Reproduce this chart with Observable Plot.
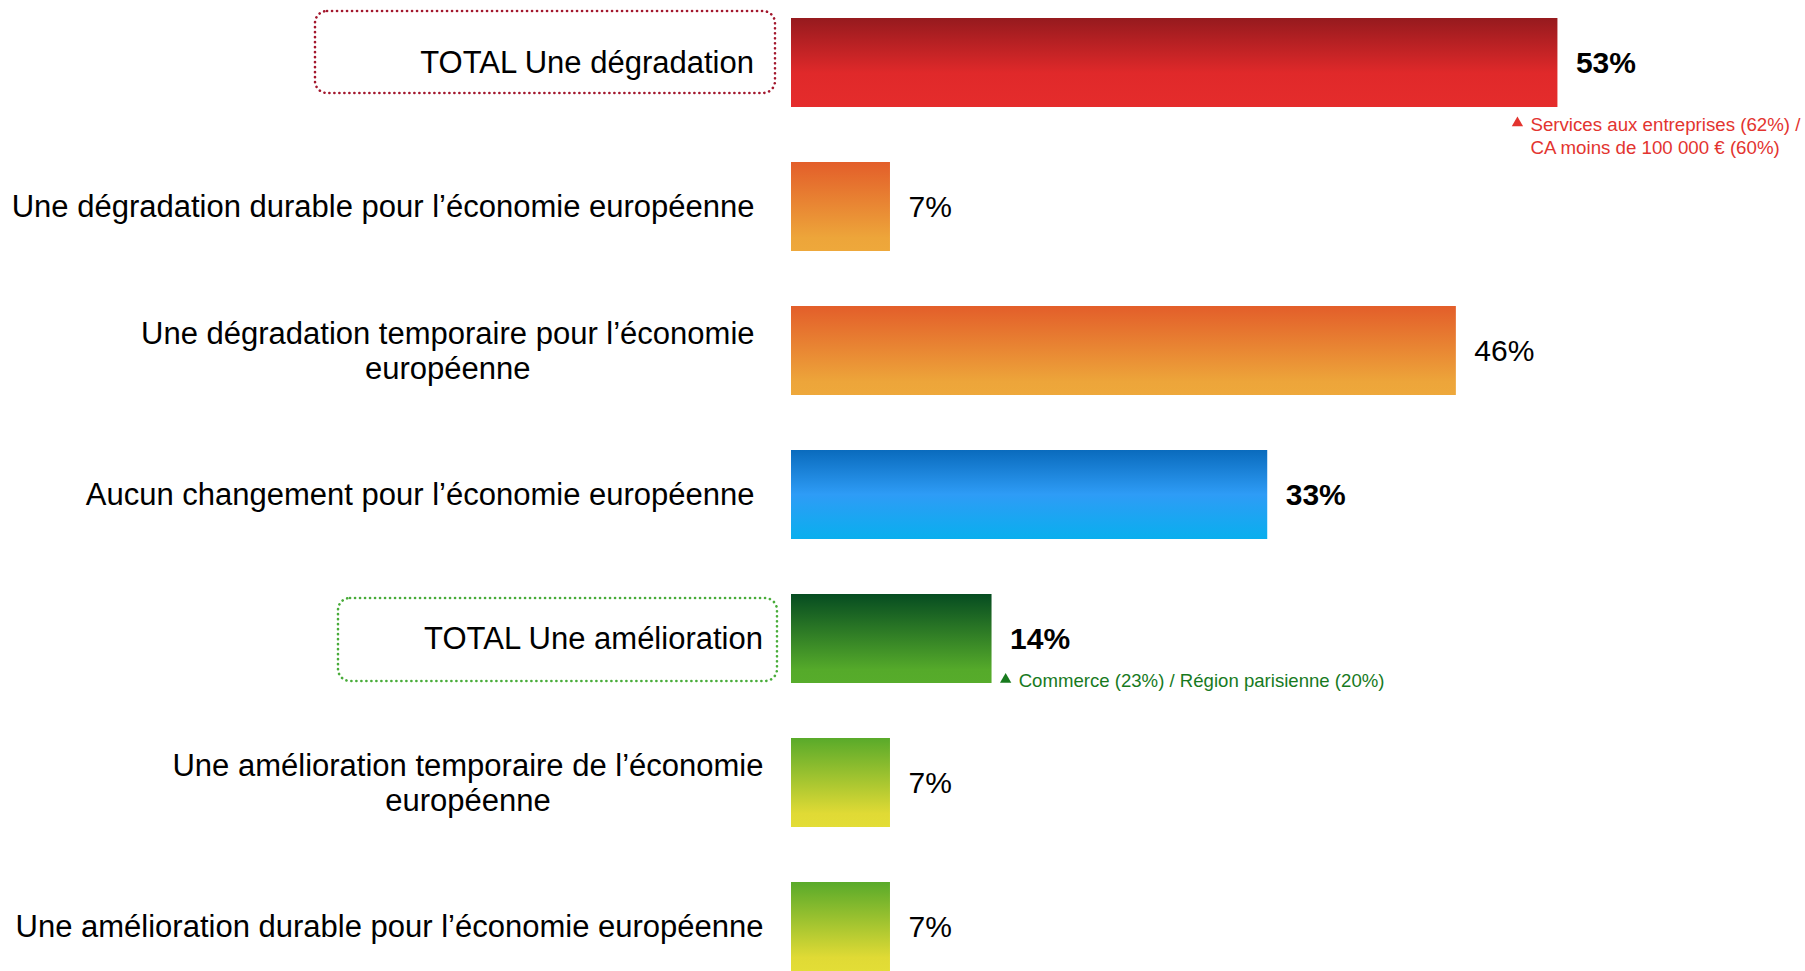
<!DOCTYPE html>
<html><head><meta charset="utf-8">
<script src="https://cdn.jsdelivr.net/npm/d3@7"></script>
<script src="https://cdn.jsdelivr.net/npm/@observablehq/plot@0.6"></script>
<style>
  html, body { margin: 0; padding: 0; background: #fff; }
  #chart svg { display: block; overflow: visible; }
</style>
</head><body><div id="chart"></div>
<script>
// ---- data ----
const categories = [
  "TOTAL Une dégradation",
  "Une dégradation durable pour l’économie européenne",
  "Une dégradation temporaire pour l’économie\neuropéenne",
  "Aucun changement pour l’économie européenne",
  "TOTAL Une amélioration",
  "Une amélioration temporaire de l’économie\neuropéenne",
  "Une amélioration durable pour l’économie européenne"
];
const values = [53, 7, 46, 33, 14, 7, 7];
const emphasized = [
  "TOTAL Une dégradation",
  "Aucun changement pour l’économie européenne",
  "TOTAL Une amélioration"
];
const noteDegradation = "Services aux entreprises (62%) /\nCA moins de 100 000 € (60%)";
const noteAmelioration = "Commerce (23%) / Région parisienne (20%)";

// ---- styles ----
const FONT = "'Liberation Sans', Arial, Helvetica, sans-serif";
const barStyle = {
  [categories[0]]: "red",
  [categories[1]]: "orange",
  [categories[2]]: "orange",
  [categories[3]]: "blue",
  [categories[4]]: "dgreen",
  [categories[5]]: "lgreen",
  [categories[6]]: "lgreen"
};
const gradients = {
  red:    [[0, "#961A1E"], [0.62, "#E0292A"], [1, "#E52C2C"]],
  orange: [[0, "#E35E2A"], [0.85, "#EDA53A"], [1, "#EEA83B"]],
  blue:   [[0, "#0A6BBD"], [0.5, "#2E9CF6"], [1, "#09AFEE"]],
  dgreen: [[0, "#064C21"], [0.85, "#55AA2A"], [1, "#57AC2B"]],
  lgreen: [[0, "#59AA2A"], [0.85, "#E0DA35"], [1, "#E3DD36"]]
};
const BAR_GAP = 2.6; // small gap between the axis origin and the bar start

const rows = categories.map((c, i) => ({category: c, value: values[i]}));

// measure label widths for centred multi-line labels
const ctx = document.createElement("canvas").getContext("2d");
ctx.font = "31px " + FONT;
const labelWidth = s => Math.max(...s.split("\n").map(l => ctx.measureText(l).width));

const labelMarks = categories.map((c, i) => {
  const gap = (i >= 4 ? 28 : 37) - BAR_GAP;
  return Plot.text([rows[i]], {
    x: () => 0, y: "category", text: "category",
    textAnchor: "middle", dx: -(gap + labelWidth(c) / 2), dy: -1,
    fontSize: 31, lineHeight: 1.13, fill: "#000"
  });
});

const chart = Plot.plot({
  width: 1805,
  height: 971,
  margin: 0,
  style: {fontFamily: FONT, background: "#fff", overflow: "visible"},
  x: {axis: null, domain: [0, 100], range: [788.4, 2239.4]},
  y: {axis: null, domain: categories, range: [-38.3, 1027.1], padding: 0.383},
  color: {type: "identity"},
  marks: [
    Plot.barX(rows, {x: "value", y: "category", insetLeft: BAR_GAP,
      fill: d => `url(#g-${barStyle[d.category]})`}),
    // highlight boxes around TOTAL labels
    Plot.barX([rows[0]], {
      x1: () => 0, x2: () => 0, y: "category",
      insetLeft: -473.4, insetRight: 13.4, insetTop: -7, insetBottom: 14,
      rx: 12, fill: "none", stroke: "#A3172D", strokeWidth: 2.6,
      strokeDasharray: "0.1 4.9", strokeLinecap: "round"
    }),
    Plot.barX([rows[4]], {
      x1: () => 0, x2: () => 0, y: "category",
      insetLeft: -450.4, insetRight: 11.4, insetTop: 4, insetBottom: 2,
      rx: 12, fill: "none", stroke: "#49AC3A", strokeWidth: 2.6,
      strokeDasharray: "0.1 4.9", strokeLinecap: "round"
    }),
    ...labelMarks,
    // value labels
    Plot.text(rows.filter(d => emphasized.includes(d.category)), {
      x: "value", y: "category", text: d => d.value + "%",
      dx: 18, textAnchor: "start", fontSize: 30, fontWeight: "bold", fill: "#000"
    }),
    Plot.text(rows.filter(d => !emphasized.includes(d.category)), {
      x: "value", y: "category", text: d => d.value + "%",
      dx: 18, textAnchor: "start", fontSize: 30, fill: "#000"
    }),
    // notes
    Plot.dot([rows[0]], {x: "value", y: "category", symbol: "triangle", r: 4.2,
      fill: "#E3342F", stroke: null, dx: -40.5, dy: 60}),
    Plot.text([rows[0]], {x: "value", y: "category", text: () => noteDegradation,
      dx: -27.5, dy: 51.5, lineAnchor: "top", textAnchor: "start",
      fontSize: 18.7, lineHeight: 1.25, fill: "#E3342F"}),
    Plot.dot([rows[4]], {x: "value", y: "category", symbol: "triangle", r: 4.2,
      fill: "#177A1E", stroke: null, dx: 13.6, dy: 40.5}),
    Plot.text([rows[4]], {x: "value", y: "category", text: () => noteAmelioration,
      dx: 26.6, dy: 42, textAnchor: "start",
      fontSize: 18.6, fill: "#177A1E"})
  ]
});

// gradient definitions
const defs = Object.entries(gradients).map(([k, stops]) =>
  `<linearGradient id="g-${k}" x1="0" y1="0" x2="0" y2="1">` +
  stops.map(([o, c]) => `<stop offset="${o}" stop-color="${c}"/>`).join("") +
  `</linearGradient>`).join("");
chart.insertAdjacentHTML("afterbegin", `<defs>${defs}</defs>`);

document.getElementById("chart").appendChild(chart);
</script>
</body></html>
